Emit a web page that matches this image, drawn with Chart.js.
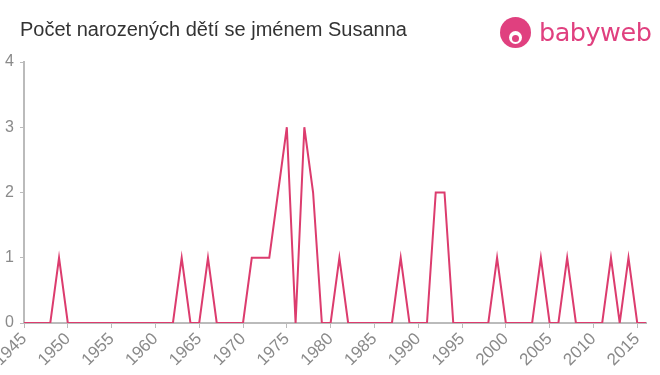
<!DOCTYPE html>
<html>
<head>
<meta charset="utf-8">
<script src="https://cdn.jsdelivr.net/npm/chart.js@4"></script>
<style>
  html, body { margin: 0; padding: 0; background: #fff; }
  #wrap { position: relative; width: 660px; height: 375px; overflow: hidden; }
  #title { position: absolute; left: 20px; top: 18px; font: 20px "Liberation Sans", Arial, sans-serif; color: #333; }
  #logo { position: absolute; left: 500px; top: 15px; height: 34px; display: flex; align-items: center; }
  #logo .icon { width: 31px; height: 31px; border-radius: 50%; background: #e0407f; position: relative; margin-right: 8px; }
  #logo .icon .face { position: absolute; left: 9px; top: 14px; width: 13px; height: 13px; border-radius: 50%; background: #fff; }
  #logo .icon .dot { position: absolute; left: 12px; top: 18px; width: 7px; height: 7px; border-radius: 50%; background: #e0407f; }
  #logo .txt { font: 25.5px "DejaVu Sans", "Liberation Sans", Arial, sans-serif; color: #e0407f; letter-spacing: -0.5px; }
  canvas { position: absolute; left: 0; top: 0; }
</style>
</head>
<body>
<div id="wrap">
  <canvas id="chart" width="660" height="375"></canvas>
  <div id="title">Počet narozených dětí se jménem Susanna</div>
  <div id="logo"><div class="icon"><div class="face"></div><div class="dot"></div></div><span class="txt">babyweb</span></div>
</div>
<script>
const years = [];
for (let y = 1945; y <= 2016; y++) years.push(y);

// počet narozených podle roku 1945..2016
const counts = [
  0, 0, 0, 0, 1, 0, 0, 0, 0, 0,   // 1945-1954
  0, 0, 0, 0, 0, 0, 0, 0, 1, 0,   // 1955-1964
  0, 1, 0, 0, 0, 0, 1, 1, 1, 2,   // 1965-1974
  3, 0, 3, 2, 0, 0, 1, 0, 0, 0,   // 1975-1984
  0, 0, 0, 1, 0, 0, 0, 2, 2, 0,   // 1985-1994
  0, 0, 0, 0, 1, 0, 0, 0, 0, 1,   // 1995-2004
  0, 0, 1, 0, 0, 0, 0, 1, 0, 1,   // 2005-2014
  0, 0                            // 2015-2016
];

const xTicks = [1945, 1950, 1955, 1960, 1965, 1970, 1975, 1980, 1985, 1990, 1995, 2000, 2005, 2010, 2015];
const yTicks = [0, 1, 2, 3, 4];

const points = years.map((y, i) => ({ x: y, y: counts[i] }));

const fontFamily = '"Liberation Sans", Arial, sans-serif';
const gray = '#8a8a8a';
const axisGray = '#bbb';

new Chart(document.querySelector('#chart'), {
  type: 'line',
  data: {
    datasets: [{
      data: points,
      borderColor: '#dc3c6e',
      borderWidth: 2,
      pointRadius: 0,
      tension: 0,
      fill: false
    }]
  },
  options: {
    responsive: false,
    animation: false,
    layout: { padding: { top: 62, right: 14, left: 0, bottom: 0 } },
    plugins: { legend: { display: false }, tooltip: { enabled: false } },
    scales: {
      x: {
        type: 'linear',
        min: 1945,
        max: 2016,
        afterBuildTicks: (scale) => {
          scale.ticks = xTicks.map(v => ({ value: v }));
        },
        afterFit: (scale) => {
          scale.height = 52;
          scale.paddingLeft = 0;
          scale.paddingRight = 0;
        },
        ticks: {
          autoSkip: false,
          maxRotation: 45,
          minRotation: 45,
          color: gray,
          font: { family: fontFamily, size: 17 },
          padding: 1,
          callback: (v) => String(v)
        },
        grid: { drawOnChartArea: false, drawTicks: true, tickLength: 5, color: axisGray, lineWidth: 1 },
        border: { color: axisGray, width: 2 }
      },
      y: {
        min: 0,
        max: 4,
        afterBuildTicks: (scale) => {
          scale.ticks = yTicks.map(v => ({ value: v }));
        },
        afterFit: (scale) => { scale.width = 24; },
        ticks: { color: gray, font: { family: fontFamily, size: 16 }, padding: 6 },
        grid: { drawOnChartArea: false, drawTicks: true, tickLength: 4, color: axisGray, lineWidth: 1 },
        border: { color: axisGray, width: 2 }
      }
    }
  }
});
</script>
</body>
</html>
